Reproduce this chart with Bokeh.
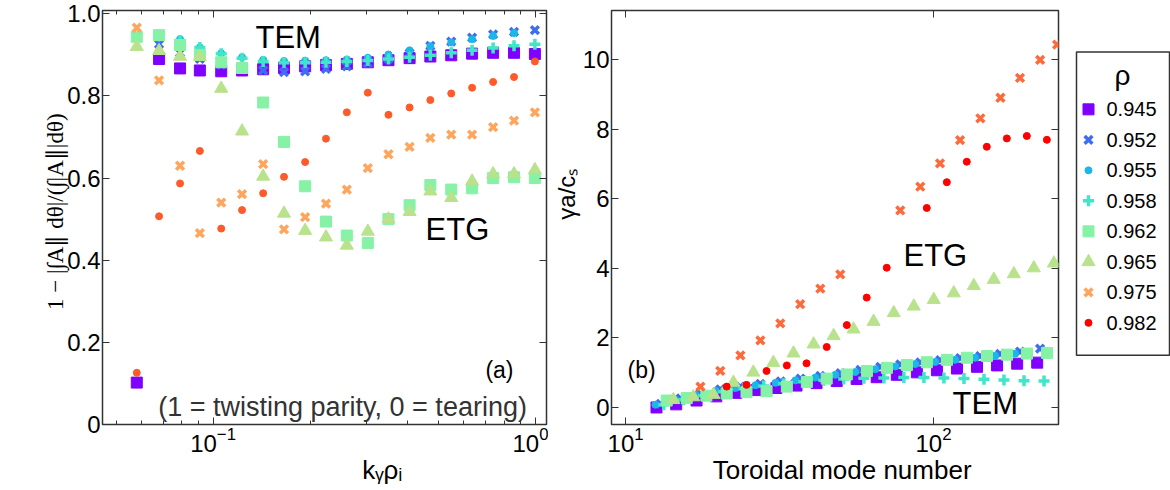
import math
from bokeh.plotting import figure
from bokeh.layouts import row
from bokeh.models import Range1d, LinearAxis, FixedTicker, Label, ColumnDataSource
from bokeh.embed import file_html
from bokeh.resources import INLINE
from bokeh.core.properties import value

NAN = float("nan")
FONT = "Liberation Sans"
NB = "\u00a0"

# ---------------- data ----------------
rho_labels = ["0.945", "0.952", "0.955", "0.958", "0.962", "0.965", "0.975", "0.982"]

# panel (a): parity vs k_y rho_i
ky = [0.058, 0.068, 0.079, 0.091, 0.106, 0.123, 0.143, 0.166, 0.193, 0.224,
      0.260, 0.302, 0.350, 0.407, 0.472, 0.548, 0.636, 0.739, 0.858, 0.996]
par_0945 = [0.102, 0.890, 0.867, 0.862, 0.860, 0.862, 0.865, 0.868, 0.872, 0.875,
            0.878, 0.882, 0.887, 0.892, 0.896, 0.899, 0.903, 0.905, 0.905, 0.902]
par_0952 = [NAN, 0.926, 0.905, 0.890, 0.876, 0.866, 0.862, 0.858, 0.860, 0.866,
            0.872, 0.880, 0.890, 0.904, 0.922, 0.932, 0.942, 0.950, 0.956, 0.960]
par_0955 = [NAN, NAN, 0.938, 0.918, 0.904, 0.894, 0.888, 0.885, 0.886, 0.887,
            0.889, 0.893, 0.901, 0.911, 0.921, 0.930, 0.938, 0.946, 0.953, NAN]
par_0958 = [NAN, NAN, 0.935, 0.918, 0.903, 0.892, 0.884, 0.881, 0.881, 0.882,
            0.884, 0.886, 0.890, 0.894, 0.899, 0.905, 0.911, 0.917, 0.922, 0.926]
par_0962 = [0.944, 0.948, 0.924, 0.900, 0.882, 0.868, 0.784, 0.688, 0.580, 0.494,
            0.460, 0.442, 0.500, 0.534, 0.583, 0.572, 0.575, 0.600, 0.602, 0.600]
par_0965 = [0.920, 0.910, 0.896, 0.896, 0.818, 0.714, 0.604, 0.514, 0.472, 0.456,
            0.436, 0.470, 0.500, 0.518, 0.568, 0.552, 0.592, 0.610, 0.610, 0.620]
par_0975 = [0.966, 0.838, 0.630, 0.466, 0.540, 0.561, 0.634, 0.475, 0.505, 0.538,
            0.572, 0.624, 0.658, 0.676, 0.698, 0.706, 0.706, 0.724, 0.740, 0.760]
par_0982 = [0.126, 0.507, 0.587, 0.666, 0.477, 0.522, 0.563, 0.603, 0.639, 0.696,
            0.760, 0.808, 0.754, 0.772, 0.790, 0.806, 0.820, 0.834, 0.846, 0.884]

# panel (b): growth rate vs toroidal mode number
n_0945 = [12.6, 14.6, 17.0, 19.7, 22.9, 26.6, 30.9, 35.9, 41.7, 48.5,
          56.3, 65.4, 76.0, 88.3, 102.6, 119.2, 138.5, 160.9, 187.0, 217.2]
g_0945 = [0.00, 0.09, 0.20, 0.32, 0.42, 0.50, 0.56, 0.63, 0.70, 0.76,
          0.82, 0.87, 0.94, 1.01, 1.07, 1.12, 1.17, 1.21, 1.26, 1.29]
n_0952 = [13.0, 15.1, 17.5, 20.3, 23.6, 27.4, 31.9, 37.0, 42.9, 49.9,
          57.9, 67.2, 78.0, 90.6, 105.2, 122.1, 141.8, 164.6, 191.1, 221.9]
g_0952 = [0.10, 0.26, 0.40, 0.52, 0.60, 0.68, 0.75, 0.83, 0.91, 0.99,
          1.08, 1.17, 1.24, 1.30, 1.36, 1.42, 1.48, 1.54, 1.61, 1.69]
n_0955 = [12.5, 14.5, 16.9, 19.6, 22.7, 26.4, 30.7, 35.6, 41.3, 48.0,
          55.7, 64.7, 75.1, 87.2, 101.3, 117.6, 136.5, 158.5, 184.0]
g_0955 = [0.08, 0.22, 0.36, 0.48, 0.56, 0.64, 0.71, 0.78, 0.86, 0.94,
          1.02, 1.10, 1.18, 1.25, 1.31, 1.37, 1.43, 1.49, 1.55]
n_0958 = [13.3, 15.4, 17.9, 20.8, 24.2, 28.1, 32.6, 37.9, 44.0, 51.1,
          59.4, 69.0, 80.1, 93.1, 108.1, 125.6, 145.9, 169.4, 196.8, 228.6]
g_0958 = [0.08, 0.22, 0.34, 0.45, 0.54, 0.62, 0.68, 0.74, 0.78, 0.82,
          0.84, 0.85, 0.86, 0.86, 0.85, 0.83, 0.81, 0.79, 0.77, 0.76]
n_0962 = [13.6, 15.8, 18.3, 21.3, 24.7, 28.7, 33.4, 38.8, 45.0, 52.3,
          60.8, 70.6, 82.0, 95.2, 110.6, 128.5, 149.2, 173.3, 201.3, 233.8]
g_0962 = [0.20, 0.27, 0.34, 0.40, 0.44, 0.47, 0.60, 0.73, 0.83, 0.95,
          1.05, 1.14, 1.22, 1.30, 1.37, 1.43, 1.48, 1.52, 1.55, 1.57]
n_0965 = [14.3, 16.6, 19.3, 22.4, 26.0, 30.2, 35.1, 40.8, 47.4, 55.0,
          63.9, 74.3, 86.3, 100.2, 116.4, 135.2, 157.0, 182.4, 211.8, 246.0]
g_0965 = [0.22, 0.30, 0.37, 0.72, 1.01, 1.29, 1.56, 1.82, 2.06, 2.25,
          2.47, 2.72, 2.91, 3.10, 3.29, 3.50, 3.68, 3.84, 4.01, 4.15]
n_0975 = [17.5, 20.3, 23.6, 27.4, 31.8, 36.9, 42.9, 49.8,
          78.0, 90.6, 105.0, 122.0, 142.0, 165.0, 191.0, 222.0, 252.0]
g_0975 = [0.60, 1.05, 1.50, 1.93, 2.42, 2.97, 3.42, 3.83,
          5.67, 6.35, 7.02, 7.69, 8.32, 8.91, 9.48, 10.00, 10.44]
n_0982 = [21.3, 24.7, 28.7, 33.4, 38.7, 45.0, 52.3, 60.7, 70.5,
          95.1, 110.5, 128.3, 149.0, 173.1, 201.0, 233.5]
g_0982 = [0.60, 0.65, 1.05, 1.21, 1.27, 1.74, 2.37, 3.16, 4.02,
          5.74, 6.48, 7.07, 7.50, 7.74, 7.81, 7.70]

par_series = [par_0945, par_0952, par_0955, par_0958, par_0962, par_0965, par_0975, par_0982]
n_series = [n_0945, n_0952, n_0955, n_0958, n_0962, n_0965, n_0975, n_0982]
g_series = [g_0945, g_0952, g_0955, g_0958, g_0962, g_0965, g_0975, g_0982]

# ---------------- styles ----------------
markers = ["square", "x", "circle", "cross", "square", "triangle", "x", "circle"]
sizes = [11, 11, 7, 11, 11, 13, 11, 7]
lwidths = [1, 3.5, 1, 3.5, 1, 1, 3.5, 1]
colors_a = ["#7f00ff", "#3f6df2", "#1ab8e6", "#40e6c8", "#86f2a6", "#b8e28c", "#ffa55c", "#ff5a2a"]
colors_b = ["#7f00ff", "#3f6df2", "#1ab8e6", "#40e6c8", "#86f2a6", "#b8e28c", "#ff6a3c", "#ff0000"]
colors_leg = ["#7f00ff", "#3f6df2", "#1ab8e6", "#40e6c8", "#86f2a6", "#b8e28c", "#ffa55c", "#ff0000"]

FRAME = "#333333"
TICK_FS = "24px"


def style_axis(ax, labels=True):
    ax.axis_line_color = None
    ax.major_tick_in = 7
    ax.major_tick_out = 0
    ax.minor_tick_in = 4
    ax.minor_tick_out = 0
    ax.major_tick_line_color = FRAME
    ax.minor_tick_line_color = FRAME
    ax.major_label_text_font = FONT
    ax.major_label_text_color = "black"
    ax.major_label_standoff = 2
    ax.axis_label_text_font = FONT
    ax.axis_label_text_font_style = "normal"
    ax.axis_label_text_color = "black"
    ax.axis_label_standoff = 2
    if labels:
        ax.major_label_text_font_size = TICK_FS
    else:
        ax.major_label_text_font_size = "1px"
        ax.major_label_text_color = None
        ax.major_label_standoff = 0


def add_points(p, xs, ys, i, colors):
    pts = [(x, y) for x, y in zip(xs, ys) if y == y]
    src = ColumnDataSource(dict(x=[a for a, _ in pts], y=[b for _, b in pts]))
    p.scatter("x", "y", source=src, marker=markers[i], size=sizes[i],
              line_width=lwidths[i], line_color=colors[i], fill_color=colors[i])


def lab(p, x, y, text, size, align="left", color="black"):
    p.add_layout(Label(x=x, y=y, text=text, text_font=FONT, text_font_size=size,
                       text_align=align, text_baseline="middle", text_color=color))


W1, W2, W3 = 548, 522, 100

# ---------------- panel (a) ----------------
p1 = figure(width=W1, height=490, x_axis_type="log",
            x_range=Range1d(0.0454, 1.082), y_range=Range1d(0, 1.008),
            output_backend="svg", toolbar_location=None,
            min_border_left=102, min_border_right=W1 - 546,
            min_border_top=10, min_border_bottom=65)
p1.grid.visible = False
p1.outline_line_color = FRAME
p1.outline_line_width = 1.5

x_minor_a = [0.05, 0.06, 0.07, 0.08, 0.09, 0.2, 0.3, 0.4, 0.5, 0.6, 0.7, 0.8, 0.9]
y_ticks_a = [0, 0.2, 0.4, 0.6, 0.8, 1.0]
p1.xaxis.ticker = FixedTicker(ticks=[0.1, 1.0], minor_ticks=x_minor_a)
p1.yaxis.ticker = FixedTicker(ticks=y_ticks_a, minor_ticks=[])
style_axis(p1.xaxis[0])
style_axis(p1.yaxis[0])
p1.yaxis.major_label_overrides = {0: "0", 1: "1.0"}
p1.xaxis.axis_label = NB * 16 + "kᵧρᵢ"
p1.xaxis.axis_label_text_font_size = "26px"
p1.xaxis.axis_label_standoff = 0
p1.yaxis.axis_label = NB * 2 + "1 − |∫A∥ dθ|/(∫|A∥|dθ)"
p1.yaxis.axis_label_text_font = "Liberation Serif"
p1.yaxis.axis_label_text_font_size = "23px"
p1.yaxis.axis_label_standoff = -4

ax_r = LinearAxis(ticker=FixedTicker(ticks=y_ticks_a, minor_ticks=[]))
style_axis(ax_r, labels=False)
p1.add_layout(ax_r, "right")
ax_t = LinearAxis(ticker=FixedTicker(ticks=[0.1, 1.0], minor_ticks=x_minor_a))
style_axis(ax_t, labels=False)
p1.add_layout(ax_t, "above")

for i in range(8):
    add_points(p1, ky, par_series[i], i, colors_a)

lab(p1, 0.1354, 0.942, "TEM", "31px")
lab(p1, 0.456, 0.4747, "ETG", "31px")
lab(p1, 0.8548, 0.1325, "(a)", "23px", align="right")
lab(p1, 0.2522, 0.0434, "(1 = twisting parity, 0 = tearing)", "27px",
    align="center", color="#333333")

# ---------------- panel (b) ----------------
p2 = figure(width=W2, height=490, x_axis_type="log",
            x_range=Range1d(9.0, 254.7), y_range=Range1d(-0.49, 11.42),
            output_backend="svg", toolbar_location=None,
            min_border_left=611 - W1, min_border_right=W1 + W2 - 1058,
            min_border_top=10, min_border_bottom=66)
p2.grid.visible = False
p2.outline_line_color = FRAME
p2.outline_line_width = 1.5

y_ticks_b = [0, 2, 4, 6, 8, 10]
p2.xaxis.ticker = FixedTicker(ticks=[10, 100], minor_ticks=[])
p2.yaxis.ticker = FixedTicker(ticks=y_ticks_b, minor_ticks=[])
style_axis(p2.xaxis[0])
style_axis(p2.yaxis[0])
p2.xaxis.axis_label = NB * 2 + "Toroidal mode number"
p2.xaxis.axis_label_text_font_size = "26px"
p2.xaxis.axis_label_standoff = 0
p2.yaxis.axis_label = NB * 7 + "γa/cₛ"
p2.yaxis.axis_label_text_font_size = "24px"
p2.yaxis.axis_label_standoff = 0

ax_r2 = LinearAxis(ticker=FixedTicker(ticks=y_ticks_b, minor_ticks=[]))
style_axis(ax_r2, labels=False)
p2.add_layout(ax_r2, "right")
ax_t2 = LinearAxis(ticker=FixedTicker(ticks=[10, 100], minor_ticks=[]))
style_axis(ax_t2, labels=False)
p2.add_layout(ax_t2, "above")

for i in range(8):
    add_points(p2, n_series[i], g_series[i], i, colors_b)

lab(p2, 79.9, 4.37, "ETG", "31px")
lab(p2, 115.3, 0.12, "TEM", "31px")
lab(p2, 10.15, 1.07, "(b)", "23px")

# ---------------- legend panel ----------------
X0 = W1 + W2
p3 = figure(width=W3, height=490, x_range=Range1d(X0, X0 + W3), y_range=Range1d(490, 0),
            output_backend="svg", toolbar_location=None, min_border=0,
            x_axis_location=None, y_axis_location=None)
p3.grid.visible = False
p3.outline_line_color = None
p3.quad(left=[1076], right=[1169], top=[49], bottom=[408], fill_color=None,
        line_color=FRAME, line_width=1.5)
p3.text(x=[1122], y=[77], text=["ρ"], text_font=value(FONT), text_font_size="28px",
        text_align="center", text_baseline="middle")
leg_y = [117 + 36.1 * i for i in range(8)]
for i in range(8):
    p3.scatter([1088], [leg_y[i]], marker=markers[i], size=sizes[i],
               line_width=lwidths[i], line_color=colors_leg[i], fill_color=colors_leg[i])
p3.text(x=[1106] * 8, y=leg_y, text=rho_labels, text_font=value(FONT), text_font_size="20px",
        text_align="left", text_baseline="middle")

layout = row(p1, p2, p3, spacing=0)
open("out.html", "w").write(file_html(layout, INLINE))
